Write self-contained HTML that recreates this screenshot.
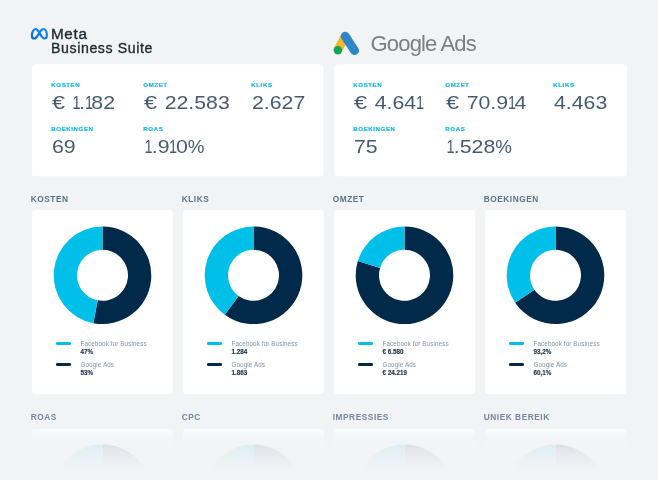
<!DOCTYPE html><html lang="nl"><head><meta charset="utf-8"><title>Dashboard</title><style>
*{margin:0;padding:0;box-sizing:border-box}
html,body{width:658px;height:480px;overflow:hidden;background:#f1f3f5}
body{position:relative;font-family:"Liberation Sans",sans-serif;color:#3d5166}
.abs{position:absolute;white-space:nowrap}
.card{position:absolute;background:#fff;border-radius:4px;box-shadow:0 0 2px rgba(60,80,100,.10)}
.lbl{position:absolute;white-space:nowrap;font-size:6.1px;font-weight:700;letter-spacing:.6px;color:#12b8e9;line-height:8px;-webkit-text-stroke:.2px #12b8e9}
.val{position:absolute;white-space:nowrap;font-size:19px;letter-spacing:0;color:#475b70;line-height:20px;transform:scaleX(1.12);transform-origin:0 50%}
.val .e{display:inline-block;transform:scaleX(1.1);transform-origin:0 50%;margin-right:2.6px}
.val .o{display:inline-block;transform:scaleX(.68);transform-origin:40% 50%;margin:0 -3.0px 0 -1.9px}
.val .p{display:inline-block;transform:scaleX(.88);transform-origin:0 50%}
.val .o:first-child{margin-left:-.6px}
.ttl{position:absolute;white-space:nowrap;font-size:8.3px;font-weight:700;letter-spacing:.55px;color:#587489;line-height:10px}
.lg{position:absolute;white-space:nowrap;font-size:6.3px;line-height:8px;color:#8593a2;letter-spacing:.1px}
.lg b{display:block;color:#24384f;font-weight:700;letter-spacing:0;font-size:6.3px;margin-top:-.6px;-webkit-text-stroke:.15px #24384f}
.bar{position:absolute;height:2.6px;width:15px;border-radius:1.3px}
.meta{position:absolute;white-space:nowrap;font-size:14px;line-height:14px;color:#1c2b33;-webkit-text-stroke:.35px #1c2b33;letter-spacing:.6px;transform-origin:0 50%}
.gads{position:absolute;white-space:nowrap;font-size:22px;line-height:24px;color:#7b7f83;letter-spacing:-.85px}
.fade{position:absolute;left:0;top:424px;width:658px;height:56px;background:linear-gradient(to bottom,rgba(241,243,245,.38) 0,rgba(241,243,245,.5) 8px,rgba(241,243,245,.86) 16px,rgba(241,243,245,.93) 24px,rgba(241,243,245,.975) 36px,rgba(241,243,245,1) 46px)}
</style></head><body>
<svg class="abs" style="left:0;top:0" width="658" height="480" viewBox="0 0 658 480"><rect x="31.9" y="64.2" width="291.5" height="112.1" rx="3.5" fill="#fff"/><rect x="334.4" y="64.2" width="292.4" height="112.1" rx="3.5" fill="#fff"/><rect x="31.9" y="210.0" width="141.0" height="184.2" rx="3.5" fill="#fff"/><rect x="182.9" y="210.0" width="141.0" height="184.2" rx="3.5" fill="#fff"/><rect x="334.2" y="210.0" width="141.0" height="184.2" rx="3.5" fill="#fff"/><rect x="485.2" y="210.0" width="141.0" height="184.2" rx="3.5" fill="#fff"/><rect x="31.9" y="428.7" width="141.0" height="60.0" rx="3.5" fill="#fff"/><rect x="182.9" y="428.7" width="141.0" height="60.0" rx="3.5" fill="#fff"/><rect x="334.2" y="428.7" width="141.0" height="60.0" rx="3.5" fill="#fff"/><rect x="485.2" y="428.7" width="141.0" height="60.0" rx="3.5" fill="#fff"/></svg>
<svg class="abs" style="left:30px;top:27px" width="19" height="14" viewBox="0 0 19 14"><defs><linearGradient id="mg" x1="0" y1="1" x2="1" y2="0"><stop offset="0" stop-color="#0668e1"/><stop offset="1" stop-color="#1a8cff"/></linearGradient></defs><path d="M4.2 11.5C2.6 11.5 1.9 10.2 1.9 8.4C1.9 5.2 3.6 2.1 5.6 2.1C7.4 2.1 8.6 4.2 10 6.7C11.4 9.3 12.6 11.5 14.4 11.5C16 11.500 16.900 10 16.900 8C16.900 4.800 15.400 2.100 13.300 2.100C11.600 2.100 10.400 3.900 9 6.400C7.400 9.200 6.200 11.500 4.200 11.500Z" fill="none" stroke="url(#mg)" stroke-width="2.2" stroke-linejoin="round"/></svg>
<div class="meta" style="left:50.7px;top:26.8px;transform:scaleX(1.09)">Meta</div>
<div class="meta" style="left:50.7px;top:40px;transform:translateY(.5px) scaleX(1.01)">Business Suite</div>
<svg class="abs" style="left:332.8px;top:31.2px" width="28" height="25" viewBox="0 0 28 25"><g stroke-linecap="round" stroke-width="8.9" fill="none"><path d="M11.8 6.2L5 18.6" stroke="#f3b82e"/><path d="M12.2 5.2L21.6 19.6" stroke="#2e86c7"/></g><circle cx="4.9" cy="19.3" r="4.2" fill="#10a65a"/></svg>
<div class="gads" style="left:370.6px;top:32.3px">Google Ads</div>
<div class="lbl" style="left:51.3px;top:81.1px">KOSTEN</div>
<div class="val" style="left:51.5px;top:93.2px"><span class="e">€</span> <span class="o">1</span>.<span class="o">1</span>82</div>
<div class="lbl" style="left:143.3px;top:81.1px">OMZET</div>
<div class="val" style="left:143.5px;top:93.2px"><span class="e">€</span> 22.583</div>
<div class="lbl" style="left:251.3px;top:81.1px">KLIKS</div>
<div class="val" style="left:251.5px;top:93.2px">2.627</div>
<div class="lbl" style="left:51.3px;top:124.6px">BOEKINGEN</div>
<div class="val" style="left:51.5px;top:136.7px">69</div>
<div class="lbl" style="left:143.3px;top:124.6px">ROAS</div>
<div class="val" style="left:143.5px;top:136.7px"><span class="o">1</span>.9<span class="o">1</span>0<span class="p">%</span></div>
<div class="lbl" style="left:353.3px;top:81.1px">KOSTEN</div>
<div class="val" style="left:353.5px;top:93.2px"><span class="e">€</span> 4.64<span class="o">1</span></div>
<div class="lbl" style="left:445.3px;top:81.1px">OMZET</div>
<div class="val" style="left:445.5px;top:93.2px"><span class="e">€</span> 70.9<span class="o">1</span>4</div>
<div class="lbl" style="left:553.3px;top:81.1px">KLIKS</div>
<div class="val" style="left:553.5px;top:93.2px">4.463</div>
<div class="lbl" style="left:353.3px;top:124.6px">BOEKINGEN</div>
<div class="val" style="left:353.5px;top:136.7px">75</div>
<div class="lbl" style="left:445.3px;top:124.6px">ROAS</div>
<div class="val" style="left:445.5px;top:136.7px"><span class="o">1</span>.528<span class="p">%</span></div>
<div class="ttl" style="left:30.7px;top:193.5px">KOSTEN</div>
<svg class="abs" style="left:52.6px;top:226px" width="99" height="99" viewBox="0 0 99 99"><path d="M49.50 0.50A48.8 48.8 0 1 1 40.36 97.24L44.72 74.35A25.5 25.5 0 1 0 49.50 23.80Z" fill="#012a4a"/><path d="M40.36 97.24A48.8 48.8 0 0 1 49.50 0.50L49.50 23.80A25.5 25.5 0 0 0 44.72 74.35Z" fill="#00bfe8"/></svg>
<div class="bar" style="left:56.2px;top:342.1px;background:#00bfe8"></div>
<div class="lg" style="left:80.5px;top:340.1px">Facebook for Business<b>47%</b></div>
<div class="bar" style="left:56.2px;top:363.3px;background:#012a4a"></div>
<div class="lg" style="left:80.5px;top:361.3px">Google Ads<b>53%</b></div>
<div class="ttl" style="left:181.7px;top:193.5px">KLIKS</div>
<svg class="abs" style="left:203.6px;top:226px" width="99" height="99" viewBox="0 0 99 99"><path d="M49.50 0.50A48.8 48.8 0 1 1 20.82 88.78L34.51 69.93A25.5 25.5 0 1 0 49.50 23.80Z" fill="#012a4a"/><path d="M20.82 88.78A48.8 48.8 0 0 1 49.50 0.50L49.50 23.80A25.5 25.5 0 0 0 34.51 69.93Z" fill="#00bfe8"/></svg>
<div class="bar" style="left:207.2px;top:342.1px;background:#00bfe8"></div>
<div class="lg" style="left:231.5px;top:340.1px">Facebook for Business<b>1.284</b></div>
<div class="bar" style="left:207.2px;top:363.3px;background:#012a4a"></div>
<div class="lg" style="left:231.5px;top:361.3px">Google Ads<b>1.863</b></div>
<div class="ttl" style="left:332.7px;top:193.5px">OMZET</div>
<svg class="abs" style="left:354.6px;top:226px" width="99" height="99" viewBox="0 0 99 99"><path d="M49.50 0.50A48.8 48.8 0 1 1 2.81 35.10L25.10 41.88A25.5 25.5 0 1 0 49.50 23.80Z" fill="#012a4a"/><path d="M2.81 35.10A48.8 48.8 0 0 1 49.50 0.50L49.50 23.80A25.5 25.5 0 0 0 25.10 41.88Z" fill="#00bfe8"/></svg>
<div class="bar" style="left:358.2px;top:342.1px;background:#00bfe8"></div>
<div class="lg" style="left:382.5px;top:340.1px">Facebook for Business<b>€ 6.580</b></div>
<div class="bar" style="left:358.2px;top:363.3px;background:#012a4a"></div>
<div class="lg" style="left:382.5px;top:361.3px">Google Ads<b>€ 24.219</b></div>
<div class="ttl" style="left:483.7px;top:193.5px">BOEKINGEN</div>
<svg class="abs" style="left:505.6px;top:226px" width="99" height="99" viewBox="0 0 99 99"><path d="M49.50 0.50A48.8 48.8 0 1 1 9.14 76.73L28.41 63.63A25.5 25.5 0 1 0 49.50 23.80Z" fill="#012a4a"/><path d="M9.14 76.73A48.8 48.8 0 0 1 49.50 0.50L49.50 23.80A25.5 25.5 0 0 0 28.41 63.63Z" fill="#00bfe8"/></svg>
<div class="bar" style="left:509.2px;top:342.1px;background:#00bfe8"></div>
<div class="lg" style="left:533.5px;top:340.1px">Facebook for Business<b>93,2%</b></div>
<div class="bar" style="left:509.2px;top:363.3px;background:#012a4a"></div>
<div class="lg" style="left:533.5px;top:361.3px">Google Ads<b>60,1%</b></div>
<div class="ttl" style="left:30.7px;top:412px;color:#73869a">ROAS</div>
<svg class="abs" style="left:52.6px;top:444px" width="99" height="99" viewBox="0 0 99 99"><path d="M49.50 0.50A48.8 48.8 0 0 1 49.50 98.10L49.50 74.80A25.5 25.5 0 0 0 49.50 23.80Z" fill="#012a4a"/><path d="M49.50 98.10A48.8 48.8 0 0 1 49.50 0.50L49.50 23.80A25.5 25.5 0 0 0 49.50 74.80Z" fill="#00bfe8"/></svg>
<div class="ttl" style="left:181.7px;top:412px;color:#73869a">CPC</div>
<svg class="abs" style="left:203.6px;top:444px" width="99" height="99" viewBox="0 0 99 99"><path d="M49.50 0.50A48.8 48.8 0 0 1 49.50 98.10L49.50 74.80A25.5 25.5 0 0 0 49.50 23.80Z" fill="#012a4a"/><path d="M49.50 98.10A48.8 48.8 0 0 1 49.50 0.50L49.50 23.80A25.5 25.5 0 0 0 49.50 74.80Z" fill="#00bfe8"/></svg>
<div class="ttl" style="left:332.7px;top:412px;color:#73869a">IMPRESSIES</div>
<svg class="abs" style="left:354.6px;top:444px" width="99" height="99" viewBox="0 0 99 99"><path d="M49.50 0.50A48.8 48.8 0 0 1 49.50 98.10L49.50 74.80A25.5 25.5 0 0 0 49.50 23.80Z" fill="#012a4a"/><path d="M49.50 98.10A48.8 48.8 0 0 1 49.50 0.50L49.50 23.80A25.5 25.5 0 0 0 49.50 74.80Z" fill="#00bfe8"/></svg>
<div class="ttl" style="left:483.7px;top:412px;color:#73869a">UNIEK BEREIK</div>
<svg class="abs" style="left:505.6px;top:444px" width="99" height="99" viewBox="0 0 99 99"><path d="M49.50 0.50A48.8 48.8 0 0 1 49.50 98.10L49.50 74.80A25.5 25.5 0 0 0 49.50 23.80Z" fill="#012a4a"/><path d="M49.50 98.10A48.8 48.8 0 0 1 49.50 0.50L49.50 23.80A25.5 25.5 0 0 0 49.50 74.80Z" fill="#00bfe8"/></svg>
<div class="fade"></div>
</body></html>
